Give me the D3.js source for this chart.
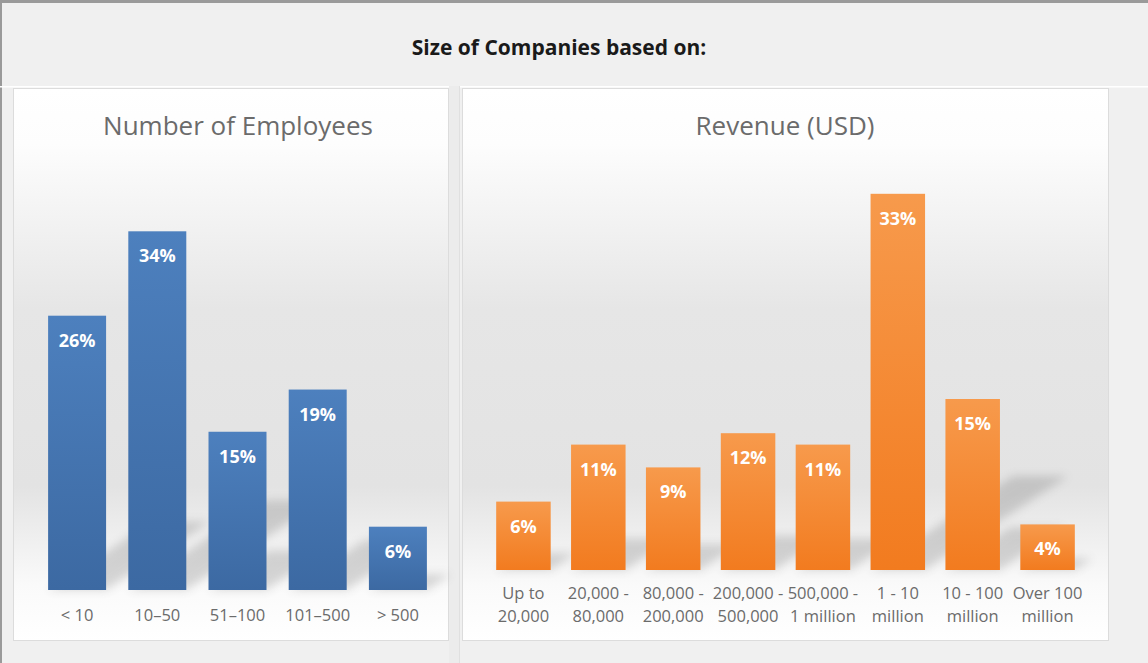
<!DOCTYPE html>
<html>
<head>
<meta charset="utf-8">
<script src="https://cdn.jsdelivr.net/npm/d3@7"></script>
<style>
  body { margin: 0; background: #f0f0f0; }
  text { font-family: "Open Sans", "Noto Sans", sans-serif; }
</style>
</head>
<body>
<svg id="chart" width="1148" height="663"></svg>
<script>
// data
const empCats = ['< 10', '10–50', '51–100', '101–500', '> 500'];
const empVals = [26, 34, 15, 19, 6];

const revCats = [['Up to', '20,000'], ['20,000 -', '80,000'], ['80,000 -', '200,000'], ['200,000 -', '500,000'],
  ['500,000 -', '1 million'], ['1 - 10', 'million'], ['10 - 100', 'million'], ['Over 100', 'million']];
const revVals = [6, 11, 9, 12, 11, 33, 15, 4];

const svg = d3.select('#chart');
const defs = svg.append('defs');

// frame
svg.append('rect').attr('x', 0).attr('y', 0).attr('width', 1148).attr('height', 663).attr('fill', '#f0f0f0');
svg.append('rect').attr('x', 0).attr('y', 0).attr('width', 1148).attr('height', 3).attr('fill', '#9a9a9a');
svg.append('rect').attr('x', 0).attr('y', 0).attr('width', 2).attr('height', 663).attr('fill', '#9a9a9a');
svg.append('rect').attr('x', 0).attr('y', 86).attr('width', 1148).attr('height', 1.5).attr('fill', '#ffffff');
svg.append('rect').attr('x', 449).attr('y', 86).attr('width', 11).attr('height', 577).attr('fill', '#ececec');
svg.append('rect').attr('x', 459).attr('y', 86).attr('width', 1).attr('height', 577).attr('fill', '#e0e0e0');

svg.append('text')
  .attr('x', 559).attr('y', 55)
  .attr('text-anchor', 'middle')
  .style('font-size', '21px').style('font-weight', 700).style('fill', '#1a1a1a')
  .text('Size of Companies based on:');

// gradients
function vgrad(id, stops) {
  let g = defs.append('linearGradient').attr('id', id)
    .attr('x1', 0).attr('y1', 0).attr('x2', 0).attr('y2', 1);
  stops.forEach(s => g.append('stop').attr('offset', s[0]).attr('stop-color', s[1]));
}
vgrad('bgGrad', [[0, '#ffffff'], [0.1, '#fdfdfd'], [0.4, '#e6e6e6'], [0.72, '#e3e3e3'], [0.9, '#fafafa'], [1, '#ffffff']]);
vgrad('blueGrad', [[0, '#4d80be'], [1, '#3c69a2']]);
vgrad('orangeGrad', [[0, '#f79a4c'], [1, '#f27b1f']]);

let blur = defs.append('filter').attr('id', 'shadowBlur')
  .attr('x', '-50%').attr('y', '-50%').attr('width', '200%').attr('height', '200%');
blur.append('feGaussianBlur').attr('stdDeviation', 5);

function panel(opt) {
  let g = svg.append('g');
  // panel
  g.append('rect')
    .attr('x', opt.x + 0.5).attr('y', opt.y + 0.5)
    .attr('width', opt.w).attr('height', opt.h)
    .attr('fill', 'url(#bgGrad)')
    .attr('stroke', '#dcdcdc');

  g.append('text')
    .attr('x', opt.titleX).attr('y', 135)
    .attr('text-anchor', 'middle')
    .style('font-size', '26px').style('fill', '#6b6b6b')
    .text(opt.title);

  let x = d3.scaleBand()
    .domain(d3.range(opt.vals.length))
    .range(opt.xRange)
    .paddingInner(opt.pad)
    .paddingOuter(opt.pad / 2);

  let y = d3.scaleLinear()
    .domain([0, 35])
    .range([opt.base, opt.base - 35 * opt.pxPer]);

  // soft diagonal shadows behind bars
  let k = 0.38, s = 0.25;
  g.append('g').attr('filter', 'url(#shadowBlur)').attr('opacity', 0.22)
    .selectAll('path')
    .data(opt.vals)
    .join('path')
    .attr('fill', '#555')
    .attr('d', (d, i) => {
      let h = opt.base - y(d);
      let x0 = x(i), x1 = x(i) + x.bandwidth();
      return `M${x0},${opt.base} L${x1},${opt.base} L${x1 + k * h},${opt.base - s * h} L${x0 + k * h},${opt.base - s * h}Z`;
    });

  g.selectAll('rect.bar')
    .data(opt.vals)
    .join('rect')
    .classed('bar', true)
    .attr('x', (d, i) => x(i))
    .attr('y', d => y(d))
    .attr('width', x.bandwidth())
    .attr('height', d => opt.base - y(d))
    .attr('fill', opt.fill);

  g.selectAll('text.val')
    .data(opt.vals)
    .join('text')
    .classed('val', true)
    .attr('x', (d, i) => x(i) + x.bandwidth() / 2)
    .attr('y', d => y(d) + 31)
    .attr('text-anchor', 'middle')
    .style('font-size', '18px').style('font-weight', 700).style('fill', '#ffffff')
    .text(d => d + '%');

  // category labels
  let labs = g.selectAll('text.cat')
    .data(opt.cats)
    .join('text')
    .classed('cat', true)
    .attr('x', (d, i) => x(i) + x.bandwidth() / 2)
    .attr('y', opt.labelY)
    .attr('text-anchor', 'middle')
    .style('font-size', '16.5px').style('fill', '#6b6b6b');
  labs.selectAll('tspan')
    .data(d => Array.isArray(d) ? d : [d])
    .join('tspan')
    .attr('x', function () { return d3.select(this.parentNode).attr('x'); })
    .attr('dy', (d, j) => j === 0 ? 0 : 23)
    .text(d => d);
}

panel({
  x: 13, y: 88, w: 435, h: 552,
  title: 'Number of Employees', titleX: 238,
  vals: empVals, cats: empCats,
  xRange: [37, 438], pad: 0.277,
  base: 590, pxPer: 10.55,
  fill: 'url(#blueGrad)', labelY: 621
});

panel({
  x: 462, y: 88, w: 646, h: 552,
  title: 'Revenue (USD)', titleX: 785,
  vals: revVals, cats: revCats,
  xRange: [486, 1085], pad: 0.272,
  base: 570, pxPer: 11.4,
  fill: 'url(#orangeGrad)', labelY: 599
});
</script>
</body>
</html>
